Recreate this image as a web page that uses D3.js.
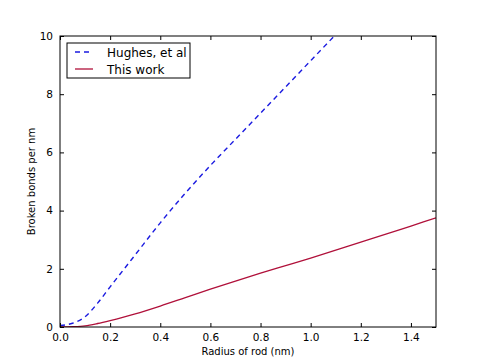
<!DOCTYPE html>
<html>
<head>
<meta charset="utf-8">
<script src="https://cdn.jsdelivr.net/npm/d3@7"></script>
<style>
  body { margin: 0; background: #fff; }
  svg text { font-family: "DejaVu Sans", sans-serif; fill: #000; }
</style>
</head>
<body>
<div class="chart"></div>
<script>
// values
var radius = [0, 0.05, 0.1, 0.15, 0.2, 0.25, 0.3, 0.4, 0.5, 0.6, 0.7, 0.8, 0.9, 1.0, 1.1, 1.2, 1.3, 1.4, 1.5];
var hughes = [0.05, 0.13, 0.35, 0.82, 1.38, 1.93, 2.48, 3.58, 4.6, 5.55, 6.45, 7.35, 8.25, 9.15, 10.05, 10.95, 11.85, 12.75, 13.65];
var thisWork = [0, 0.01, 0.04, 0.12, 0.22, 0.33, 0.45, 0.72, 1.01, 1.3, 1.58, 1.85, 2.11, 2.37, 2.64, 2.92, 3.19, 3.47, 3.75];
var xTicks = [0, 0.2, 0.4, 0.6, 0.8, 1.0, 1.2, 1.4];
var yTicks = [0, 2, 4, 6, 8, 10];
var seriesNames = ["Hughes, et al", "This work"];

function drawChart() {
    var margin = { top: 36, right: 49, bottom: 36, left: 60 };
    const w = 485;
    const h = 363;
    const chartWidth = w - margin.left - margin.right;
    const chartHeight = h - margin.top - margin.bottom;

    const svg = d3.select('.chart')
        .append('svg')
        .attr('width', w)
        .attr('height', h);

    const g = svg.append('g')
        .attr('transform', 'translate(' + margin.left + ', ' + margin.top + ')');

    const xScale = d3.scaleLinear().domain([0, 1.5]).range([0, chartWidth]);
    const yScale = d3.scaleLinear().domain([0, 10]).range([chartHeight, 0]);

    g.append('clipPath').attr('id', 'clip')
        .append('rect').attr('width', chartWidth).attr('height', chartHeight);

    // lines
    var line = d3.line()
        .curve(d3.curveMonotoneX)
        .x((d, i) => xScale(radius[i]))
        .y(d => yScale(d));

    g.append('path')
        .datum(hughes)
        .attr('clip-path', 'url(#clip)')
        .attr('d', line)
        .attr('fill', 'none')
        .attr('stroke', '#1a1ae0')
        .attr('stroke-width', 1.4)
        .attr('stroke-dasharray', '5,4');

    g.append('path')
        .datum(thisWork)
        .attr('clip-path', 'url(#clip)')
        .attr('d', line)
        .attr('fill', 'none')
        .attr('stroke', '#b0103a')
        .attr('stroke-width', 1.3);

    // axes, ticks pointing inward on all four sides
    const fmtX = d3.format('.1f');
    g.append('g')
        .attr('transform', `translate(0, ${chartHeight})`)
        .call(d3.axisBottom(xScale).tickValues(xTicks).tickFormat(fmtX).tickSizeInner(-4).tickSizeOuter(0).tickPadding(7))
        .call(a => a.select('.domain').remove())
        .selectAll('text').style('font-size', '10.5px');

    g.append('g')
        .call(d3.axisTop(xScale).tickValues(xTicks).tickFormat('').tickSizeInner(-4).tickSizeOuter(0))
        .call(a => a.select('.domain').remove());

    g.append('g')
        .call(d3.axisLeft(yScale).tickValues(yTicks).tickFormat(d3.format('d')).tickSizeInner(-4).tickSizeOuter(0).tickPadding(7))
        .call(a => a.select('.domain').remove())
        .selectAll('text').style('font-size', '10.5px');

    g.append('g')
        .attr('transform', `translate(${chartWidth}, 0)`)
        .call(d3.axisRight(yScale).tickValues(yTicks).tickFormat('').tickSizeInner(-4).tickSizeOuter(0))
        .call(a => a.select('.domain').remove());

    g.selectAll('.tick line').attr('stroke', '#000');

    // frame
    g.append('rect')
        .attr('width', chartWidth)
        .attr('height', chartHeight)
        .attr('fill', 'none')
        .attr('stroke', '#000')
        .attr('stroke-width', 1);

    // axis labels
    g.append('text')
        .attr('x', chartWidth / 2)
        .attr('y', chartHeight + 28)
        .attr('text-anchor', 'middle')
        .style('font-size', '10px')
        .text('Radius of rod (nm)');

    g.append('text')
        .attr('transform', 'rotate(-90)')
        .attr('x', -chartHeight / 2)
        .attr('y', -25)
        .attr('text-anchor', 'middle')
        .style('font-size', '10px')
        .text('Broken bonds per nm');

    // legend
    var legend = g.append('g').attr('transform', 'translate(7, 7)');
    legend.append('rect')
        .attr('width', 123)
        .attr('height', 35)
        .attr('fill', '#fff')
        .attr('stroke', '#000')
        .attr('stroke-width', 1);

    var styles = [
        { color: '#1a1ae0', dash: '5,4' },
        { color: '#b0103a', dash: null }
    ];
    var item = legend.selectAll('.legend-label')
        .data(seriesNames)
        .enter().append('g')
        .attr('class', 'legend-label')
        .attr('transform', (d, i) => 'translate(0,' + (9 + i * 17) + ')');

    item.append('line')
        .attr('x1', 8).attr('x2', 26)
        .attr('stroke', (d, i) => styles[i].color)
        .attr('stroke-width', 1.3)
        .attr('stroke-dasharray', (d, i) => styles[i].dash);

    item.append('text')
        .attr('x', 40)
        .attr('y', 4.5)
        .style('font-size', '12px')
        .text(d => d);
}

drawChart();
</script>
</body>
</html>
